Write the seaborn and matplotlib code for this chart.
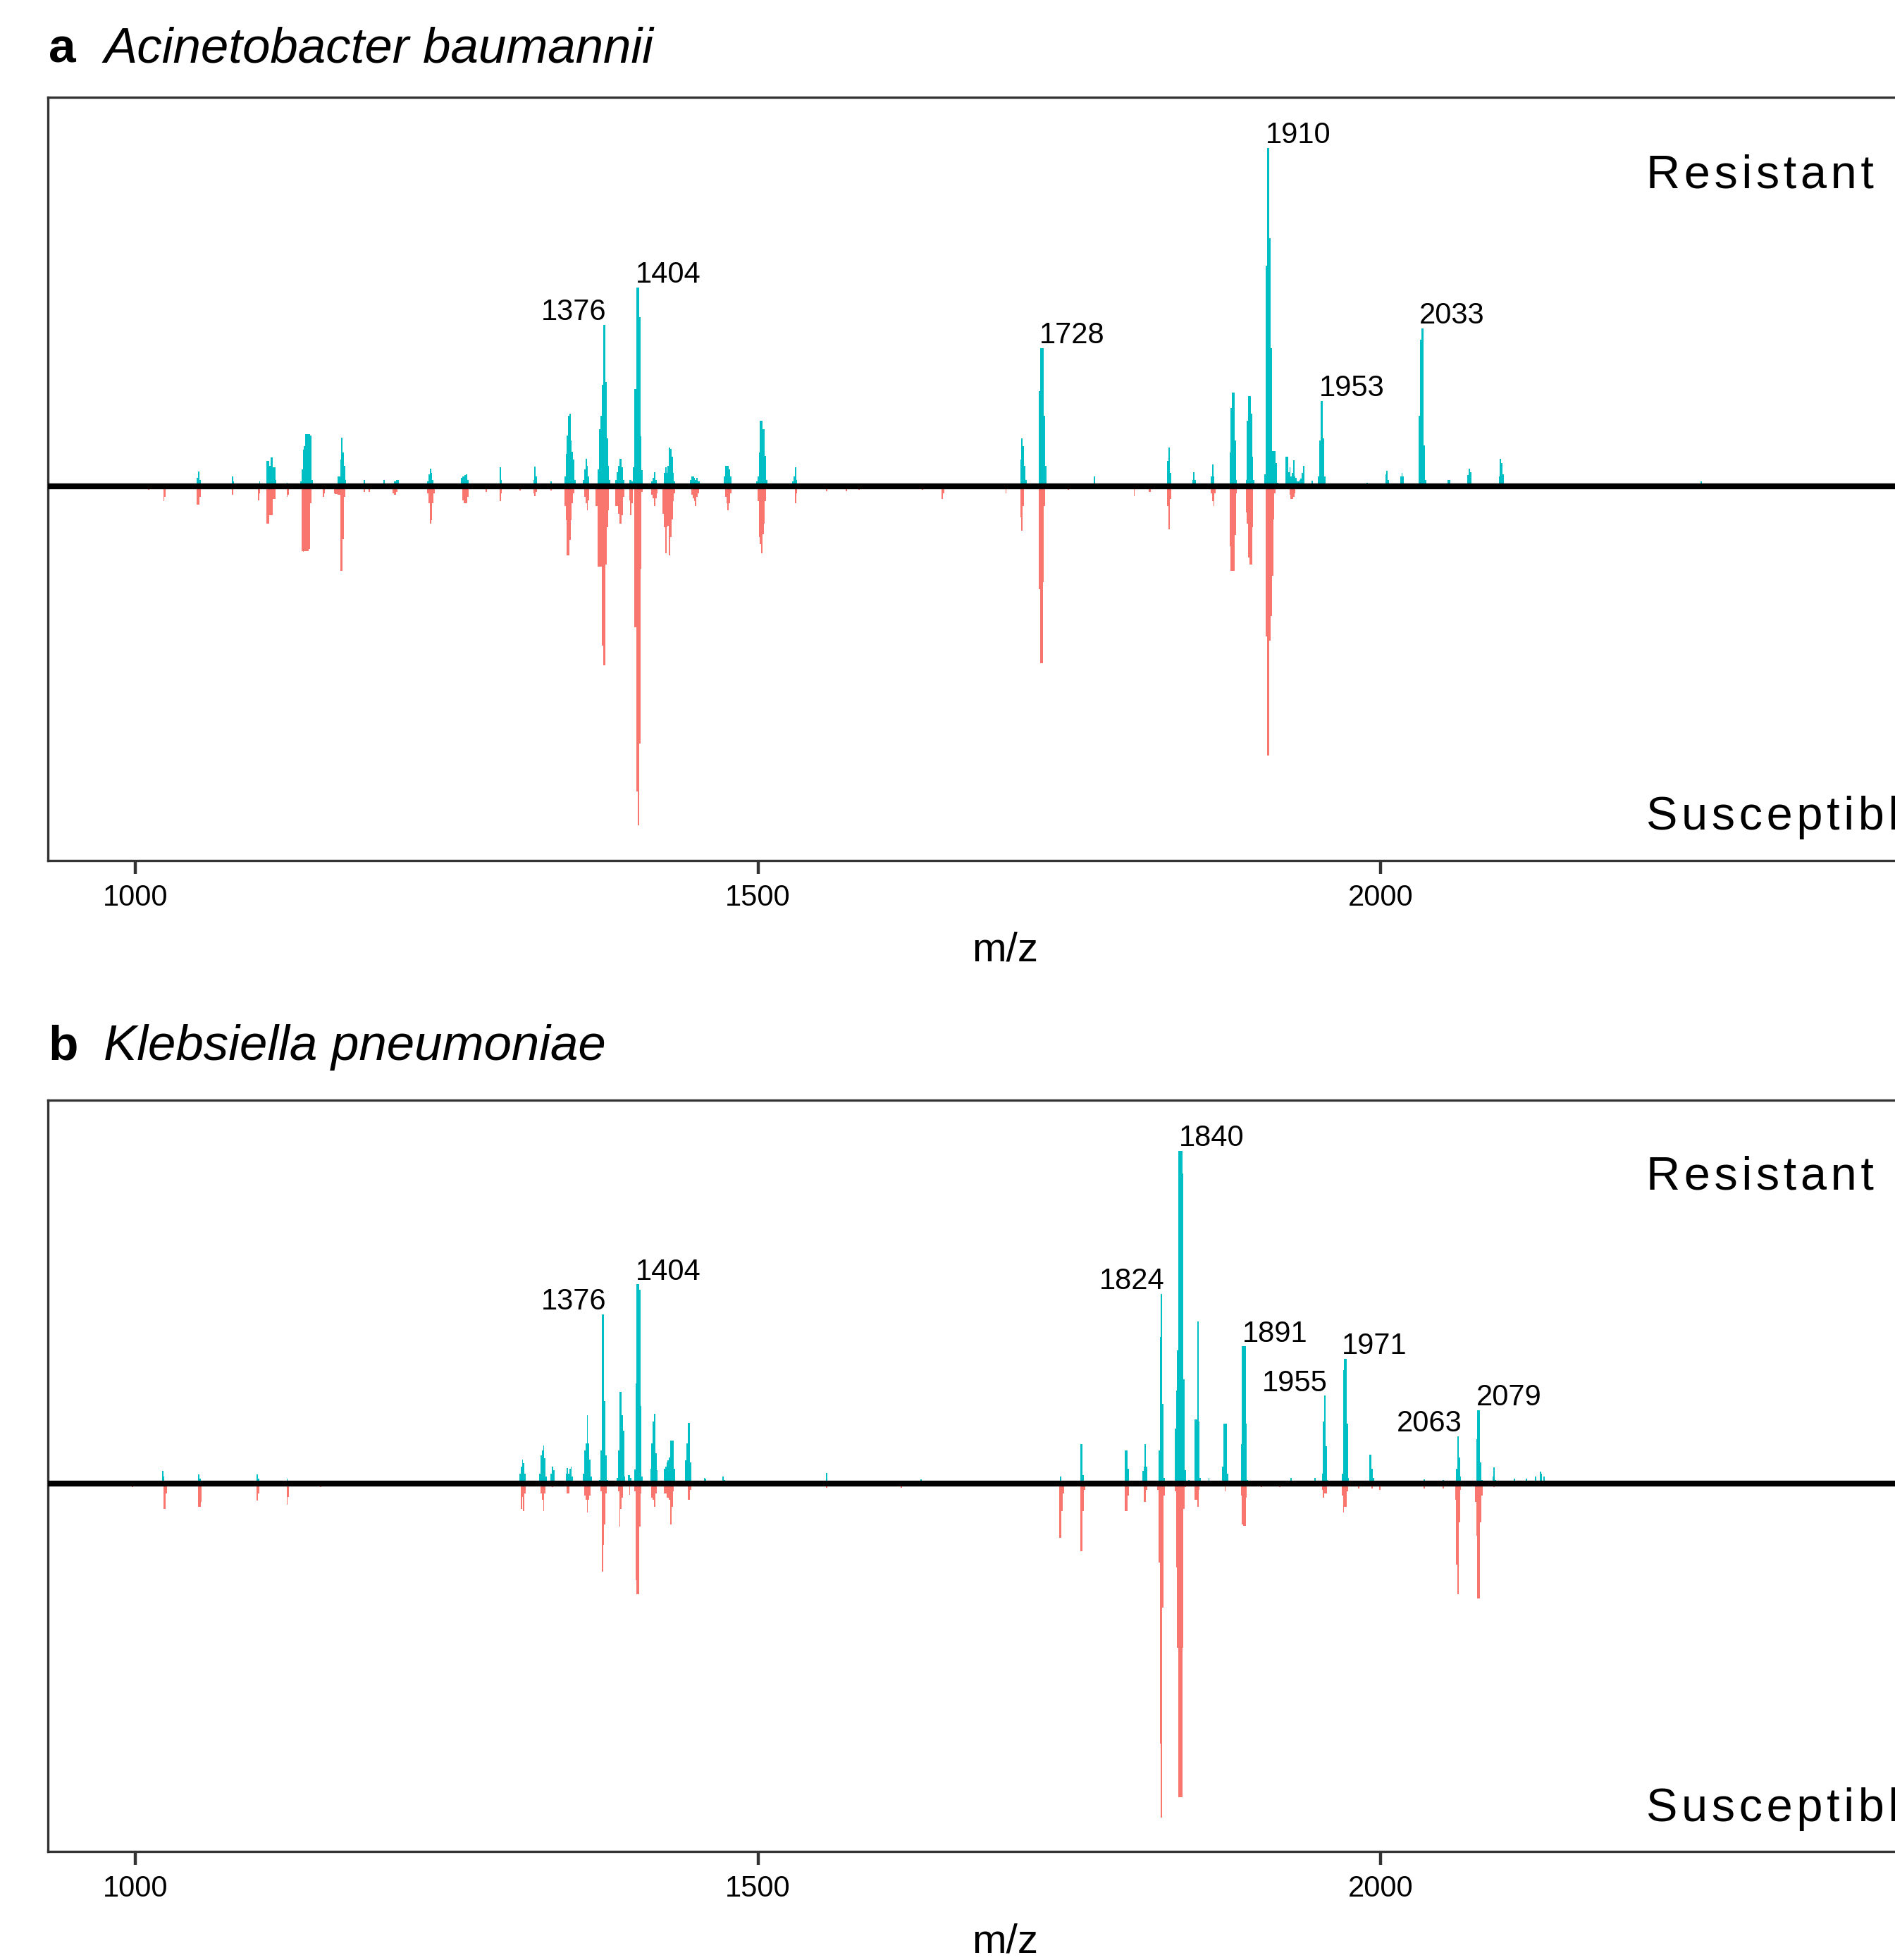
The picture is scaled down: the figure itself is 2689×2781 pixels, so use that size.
import pandas as pd
import matplotlib
matplotlib.use("Agg")
import matplotlib.pyplot as plt
import seaborn as sns

# seaborn theme first, font list afterwards (set_theme resets font.family)
sns.set_theme(style="white")
plt.rcParams["font.family"] = ["Liberation Sans", "DejaVu Sans"]

RES_COLOR = "#00BFC4"
SUS_COLOR = "#F8766D"

# ---------------------------------------------------------------
# data: (m/z bin, relative intensity)
# panel a - Acinetobacter baumannii
# ---------------------------------------------------------------
a_resistant = [
    (1050, 2.5), (1051, 4.5), (1052, 2), (1078, 2.9), (1079, 1.5), (1100, 1.6),
    (1106, 7.6), (1107, 7.6), (1108, 6), (1109, 8.6), (1110, 8.6), (1111, 5.6), (1112, 5.6), (1113, 2),
    (1122, 1.2), (1123, 1),
    (1133, 1.6), (1134, 5), (1135, 10.9), (1136, 12), (1137, 15.5), (1138, 15.5), (1139, 15.5),
    (1140, 15.5), (1141, 15), (1142, 2),
    (1151, 1), (1163, 3), (1164, 3), (1165, 8), (1166, 14.5), (1167, 10), (1168, 6), (1169, 2),
    (1184, 2), (1185, 1), (1200, 2), (1208, 1.5), (1209, 1.5), (1210, 2), (1211, 2), (1212, 1),
    (1235, 1.5), (1236, 3.5), (1237, 5.2), (1238, 4), (1239, 2), (1240, 1),
    (1262, 2.5), (1263, 3), (1264, 3), (1265, 3.3), (1266, 3.5), (1267, 2),
    (1293, 5.6), (1294, 2), (1309, 0.8), (1320, 2), (1321, 5.8), (1322, 3), (1323, 1),
    (1333, 1), (1334, 1.5), (1335, 1),
    (1345, 3), (1346, 9.6), (1347, 15), (1348, 20.9), (1349, 21.5), (1350, 13.5), (1351, 10.2),
    (1352, 8), (1353, 2),
    (1360, 2), (1361, 5), (1362, 8.2), (1363, 6), (1364, 3), (1365, 1),
    (1371, 1), (1372, 5), (1373, 16.9), (1374, 20.9), (1375, 30.1), (1376, 47.7), (1377, 47.7),
    (1378, 30.8), (1379, 14.2), (1380, 6.2), (1381, 2),
    (1386, 2), (1387, 4.2), (1388, 6), (1389, 8.2), (1390, 8.2), (1391, 5.6), (1392, 2),
    (1396, 1), (1397, 2), (1398, 2), (1399, 1.5),
    (1400, 5.6), (1401, 28.8), (1402, 28.8), (1403, 58.7), (1404, 58.7), (1405, 50), (1406, 14.9),
    (1407, 4.9), (1408, 1),
    (1415, 1.5), (1416, 2.5), (1417, 4.2), (1418, 2),
    (1424, 1), (1425, 4), (1426, 5.6), (1427, 4), (1428, 6), (1429, 11.6), (1430, 11), (1431, 8.9),
    (1432, 4), (1433, 1.5),
    (1446, 2), (1447, 3), (1448, 3), (1449, 2.5), (1450, 2), (1451, 2.5), (1452, 1.5), (1453, 1.5),
    (1473, 3), (1474, 6), (1475, 6), (1476, 6), (1477, 5), (1478, 3), (1490, 1),
    (1499, 1.5), (1500, 3), (1501, 10), (1502, 19.5), (1503, 19.5), (1504, 16.9), (1505, 16.9),
    (1506, 9), (1507, 2),
    (1515, 1), (1528, 1.5), (1529, 3), (1530, 5.6), (1531, 2), (1581, 1),
    (1711, 8), (1712, 14.2), (1713, 12), (1714, 6), (1715, 2),
    (1726, 28.2), (1727, 40.8), (1728, 40.8), (1729, 40.8), (1730, 20.9), (1731, 6.2),
    (1770, 2.9), (1771, 1), (1829, 7.6), (1830, 11.6), (1831, 4),
    (1849, 2), (1850, 4.2), (1851, 2), (1864, 2.9), (1865, 6.5), (1866, 3),
    (1879, 10), (1880, 23.2), (1881, 27.8), (1882, 27.8), (1883, 13.5), (1884, 2),
    (1892, 2), (1893, 19.5), (1894, 26.8), (1895, 26.8), (1896, 21.5), (1897, 8.9), (1898, 2),
    (1907, 3.5), (1908, 65.3), (1909, 100), (1910, 100), (1911, 73.3), (1912, 40.8),
    (1913, 10.5), (1914, 10.5), (1915, 10.5), (1916, 6.9), (1917, 1.2),
    (1924, 8.9), (1925, 8.9), (1926, 4.2), (1927, 5.6), (1928, 3), (1929, 4), (1930, 7.8),
    (1931, 3), (1932, 2.5), (1933, 1.6), (1934, 1.5), (1935, 2), (1936, 2.3), (1937, 4),
    (1938, 6.2), (1939, 1), (1945, 1.8),
    (1950, 2.9), (1951, 13.5), (1952, 25.2), (1953, 25.2), (1954, 14.2), (1955, 2.9),
    (1989, 1.2), (2004, 3.6), (2005, 4.6), (2006, 2), (2016, 3), (2017, 4), (2018, 3),
    (2031, 20.9), (2032, 43.4), (2033, 46.7), (2034, 46.7), (2035, 12.2), (2036, 2),
    (2054, 2), (2055, 2), (2056, 1), (2070, 3.3), (2071, 5.2), (2072, 4.2), (2073, 1),
    (2095, 3), (2096, 8.2), (2097, 6.9), (2098, 3.6), (2099, 1), (2257, 1.5), (2258, 1),
]

a_susceptible = [
    (1011, 1), (1023, 4.4), (1024, 3), (1050, 5.4), (1051, 5.4), (1052, 3), (1078, 2.4),
    (1099, 4.1), (1100, 2),
    (1106, 11), (1107, 11), (1108, 8.4), (1109, 8.4), (1110, 8.4), (1111, 3.7), (1112, 3.7),
    (1122, 3), (1123, 2.5),
    (1134, 19), (1135, 19.2), (1136, 19), (1137, 19), (1138, 19), (1139, 19), (1140, 18.5), (1141, 5),
    (1151, 3), (1152, 2),
    (1160, 2), (1161, 2.3), (1162, 2.3), (1163, 2.5), (1164, 2.5), (1165, 25), (1166, 25),
    (1167, 15.5), (1168, 3),
    (1184, 1.5), (1188, 1.7), (1207, 2), (1208, 2.4), (1209, 2.4), (1210, 1.5),
    (1235, 2), (1236, 5), (1237, 11), (1238, 10), (1239, 5), (1240, 2),
    (1263, 4), (1264, 5), (1265, 5), (1266, 5), (1267, 3), (1282, 1.7), (1293, 4.4), (1294, 2),
    (1309, 1.2), (1320, 2), (1321, 2.8), (1322, 1.5), (1334, 1.2),
    (1345, 5.7), (1346, 10), (1347, 20.3), (1348, 20.3), (1349, 15.7), (1350, 10), (1351, 5), (1352, 2),
    (1361, 3), (1362, 5), (1363, 7), (1364, 4),
    (1370, 5.7), (1371, 5.7), (1372, 23.6), (1373, 23.6), (1374, 23.6), (1375, 46.9), (1376, 52.9),
    (1377, 52.9), (1378, 23), (1379, 12), (1380, 7),
    (1386, 5.7), (1387, 5.7), (1388, 8), (1389, 11), (1390, 11), (1391, 8.4), (1392, 3),
    (1397, 4), (1398, 8.4), (1399, 5),
    (1401, 41.6), (1402, 41.6), (1403, 90), (1404, 100), (1405, 76), (1406, 24.3), (1407, 1.7),
    (1415, 2.5), (1416, 3.5), (1417, 5.7), (1418, 3.5), (1419, 2),
    (1424, 8), (1425, 12), (1426, 19.7), (1427, 12), (1428, 11.6), (1429, 20.3), (1430, 15),
    (1431, 9.7), (1432, 4.3), (1433, 2),
    (1447, 2.5), (1448, 3.5), (1449, 4.4), (1450, 5.7), (1451, 3), (1452, 2),
    (1474, 3), (1475, 5), (1476, 7), (1477, 5), (1478, 2),
    (1500, 4.4), (1501, 15), (1502, 17), (1503, 19.7), (1504, 14), (1505, 11), (1506, 4.4),
    (1530, 5), (1531, 2), (1555, 1.3), (1571, 1.3), (1581, 1), (1632, 1), (1648, 3.7), (1649, 2),
    (1699, 2), (1711, 9), (1712, 13), (1713, 5.7),
    (1726, 30.3), (1727, 52.2), (1728, 52.2), (1729, 28.3), (1730, 5.7),
    (1749, 1), (1802, 2.8), (1814, 1.7), (1815, 1.5), (1829, 5.7), (1830, 12.7), (1831, 3.7),
    (1864, 2), (1865, 4.4), (1866, 5.7), (1867, 2),
    (1879, 17.7), (1880, 25), (1881, 25), (1882, 25), (1883, 14.3), (1884, 2),
    (1892, 7.6), (1893, 11), (1894, 21), (1895, 23), (1896, 23), (1897, 12),
    (1908, 44.2), (1909, 79.4), (1910, 79.4), (1911, 45.6), (1912, 38.2), (1913, 26.3),
    (1914, 9.7), (1915, 2),
    (1927, 2.4), (1928, 3.7), (1929, 3.7), (1930, 3), (1931, 2),
]

# panel b - Klebsiella pneumoniae
b_resistant = [
    (1022, 3.8), (1023, 2), (1051, 2.8), (1052, 1.5), (1098, 2.8), (1099, 1.5), (1122, 1.5),
    (1298, 0.8), (1309, 3), (1310, 5.1), (1311, 7.1), (1312, 6), (1313, 3),
    (1325, 3), (1326, 8.5), (1327, 10), (1328, 11.4), (1329, 7.5), (1330, 2),
    (1334, 3), (1335, 5.1), (1336, 4),
    (1346, 3), (1347, 4.7), (1348, 3), (1349, 4.5), (1350, 5.1), (1351, 2),
    (1360, 3), (1361, 9.8), (1362, 12), (1363, 20.5), (1364, 12), (1365, 7.1), (1366, 2),
    (1373, 1), (1374, 9.8), (1375, 50.7), (1376, 50.7), (1377, 24.6), (1378, 8.5), (1379, 1),
    (1387, 1.7), (1388, 10), (1389, 27.5), (1390, 27.5), (1391, 20.5), (1392, 15.8), (1393, 2),
    (1396, 2.4), (1397, 2.4), (1398, 1.7),
    (1401, 4.2), (1402, 30), (1403, 59.7), (1404, 59.7), (1405, 58.1), (1406, 23.2), (1407, 2),
    (1414, 4.4), (1415, 12), (1416, 18.5), (1417, 20.8), (1418, 9), (1419, 4),
    (1425, 4.4), (1426, 5), (1427, 6.4), (1428, 7), (1429, 7.8), (1430, 12.9), (1431, 12.9),
    (1432, 12.9), (1433, 4.4),
    (1442, 7), (1443, 12), (1444, 18.1), (1445, 18.1), (1446, 6.4),
    (1457, 1.7), (1458, 1.5), (1472, 2), (1473, 1), (1538, 0.8), (1555, 3.1), (1572, 0.8),
    (1631, 1.3), (1743, 2),
    (1759, 11.8), (1760, 11.8), (1761, 2.4), (1795, 9.8), (1796, 9.8), (1797, 4.4),
    (1809, 3.7), (1810, 5), (1811, 11.8), (1812, 5),
    (1822, 9.8), (1823, 44), (1824, 56.8), (1825, 23.9), (1826, 1.7),
    (1835, 16.5), (1836, 27.9), (1837, 40), (1838, 99.7), (1839, 99.7), (1840, 99.7),
    (1841, 93), (1842, 31.3), (1843, 4), (1846, 1),
    (1851, 19.2), (1852, 19.2), (1853, 48.7), (1854, 18.5), (1855, 1.7), (1862, 1.7),
    (1873, 5.1), (1874, 17.9), (1875, 17.9), (1876, 17.9), (1877, 3),
    (1888, 11.8), (1889, 41.1), (1890, 41.1), (1891, 41.1), (1892, 17.9), (1893, 1),
    (1928, 1.7), (1947, 1.7),
    (1953, 3), (1954, 18.5), (1955, 26.3), (1956, 11.1), (1957, 1),
    (1969, 3), (1970, 34), (1971, 37.3), (1972, 37.3), (1973, 17.9), (1974, 1.7),
    (1991, 8.7), (1992, 8.7), (1993, 4.3), (1994, 1.7), (2035, 1.3), (2050, 1),
    (2061, 4.3), (2062, 14.1), (2063, 7.8), (2064, 2),
    (2077, 13.2), (2078, 21.9), (2079, 21.9), (2080, 6.4), (2081, 1),
    (2090, 2), (2091, 4.8), (2092, 1), (2107, 1.5), (2117, 1.5), (2124, 2), (2128, 3.5),
    (2129, 3), (2131, 2), (2213, 0.8),
]

b_susceptible = [
    (998, 1), (1023, 7.7), (1024, 7.7), (1025, 3), (1051, 7), (1052, 7), (1053, 5.5),
    (1098, 5.2), (1099, 3), (1122, 6.3), (1123, 4), (1149, 1),
    (1310, 7.7), (1311, 4), (1312, 8.3), (1313, 3), (1326, 3), (1327, 5), (1328, 8.3), (1329, 3),
    (1335, 1), (1347, 3), (1348, 3),
    (1361, 3.6), (1362, 5), (1363, 8.7), (1364, 5), (1365, 3.6),
    (1374, 2.3), (1375, 26.4), (1376, 18.4), (1377, 12.3), (1378, 3),
    (1388, 2.3), (1389, 13), (1390, 7.7), (1391, 4.3), (1397, 3.4),
    (1401, 2.3), (1402, 29.1), (1403, 33.2), (1404, 33.2), (1405, 13), (1406, 3),
    (1415, 4.3), (1416, 5), (1417, 7), (1418, 3),
    (1425, 3), (1426, 3), (1427, 4.3), (1428, 4.3), (1429, 5), (1430, 12.3), (1431, 7), (1432, 2.3),
    (1444, 5), (1445, 5), (1446, 2), (1555, 1.3), (1615, 1.3),
    (1742, 16.4), (1743, 16.4), (1744, 8.3), (1745, 3),
    (1759, 20.4), (1760, 20.4), (1761, 8.3), (1762, 2),
    (1795, 8.3), (1796, 8.3), (1797, 3.6), (1810, 5.6), (1811, 5.6), (1812, 2),
    (1821, 2), (1822, 23.8), (1823, 78.1), (1824, 100.3), (1825, 37.2), (1826, 3.6),
    (1835, 2.3), (1836, 25.1), (1837, 49.3), (1838, 94.2), (1839, 94.2), (1840, 94.2),
    (1841, 49.3), (1842, 7.6), (1843, 1),
    (1851, 5), (1852, 5), (1853, 7), (1854, 2), (1875, 2.3),
    (1888, 3.6), (1889, 12.3), (1890, 12.8), (1891, 12.8), (1892, 4.3), (1904, 1), (1919, 1),
    (1953, 2), (1954, 4.3), (1955, 3), (1956, 3),
    (1969, 3.6), (1970, 8.7), (1971, 7), (1972, 7), (1973, 2.3),
    (1982, 1.6), (1993, 1.6), (1999, 2), (2035, 1.6), (2050, 1.6),
    (2060, 5), (2061, 24.4), (2062, 33.2), (2063, 11.7), (2064, 2),
    (2076, 5.6), (2077, 15.7), (2078, 34.5), (2079, 34.5), (2080, 11.7), (2081, 3.6), (2091, 1),
]

# annotated peaks and which side of the peak the number sits on
a_peaks = [1376, 1404, 1728, 1910, 1953, 2033]
a_peak_side = ["right", "left", "left", "left", "left", "left"]
b_peaks = [1376, 1404, 1824, 1840, 1891, 1955, 1971, 2063, 2079]
b_peak_side = ["right", "left", "right", "left", "left", "right", "left", "right", "left"]

a_title = "Acinetobacter baumannii"
b_title = "Klebsiella pneumoniae"
x_ticks = [1000, 1500, 2000]


def spaced(word):
    # wide letter spacing of the group labels
    return "\u200a".join(word)


def make_frame(res, sus):
    df_r = pd.DataFrame(res, columns=["mz", "intensity"])
    df_r["group"] = "Resistant"
    df_s = pd.DataFrame(sus, columns=["mz", "intensity"])
    df_s["intensity"] = -df_s["intensity"]
    df_s["group"] = "Susceptible"
    return pd.concat([df_r, df_s], ignore_index=True)


def draw_panel(ax, df, peaks, sides):
    sns.histplot(data=df, x="mz", weights="intensity", hue="group",
                 hue_order=["Resistant", "Susceptible"],
                 palette={"Resistant": RES_COLOR, "Susceptible": SUS_COLOR},
                 binwidth=1, binrange=(900.5, 2500.5), multiple="layer",
                 alpha=1, linewidth=0, legend=False, ax=ax)
    ax.axhline(0, color="black", lw=3, zorder=3)

    # peak numbers sit just above the resistant peak
    res = df[df["group"] == "Resistant"]
    for mz, side in zip(peaks, sides):
        top = res.loc[(res["mz"] - mz).abs() <= 2, "intensity"].max()
        dx = -1.5 if side == "left" else 1.5
        ax.annotate(str(mz), xy=(mz, top), xytext=(dx, 2.5), textcoords="offset points",
                    ha=side, va="baseline", fontsize=15, color="black")

    ax.text(2213, 88.3, spaced("Resistant"), ha="left", va="baseline", fontsize=24, color="black")
    ax.text(2213, -101.3, spaced("Susceptible"), ha="left", va="baseline", fontsize=24, color="black")

    # ticks first, then limits (set_xticks would widen the view otherwise)
    ax.set_xticks(x_ticks)
    ax.set_yticks([])
    ax.set_xlim(930, 2467)
    ax.set_ylim(-110.4, 115)
    ax.set_ylabel("")
    ax.set_xlabel("m/z", fontsize=21, labelpad=10, color="black")
    ax.tick_params(axis="x", bottom=True, direction="out", length=7, width=1.6,
                   color="#333333", labelsize=15, labelcolor="black", pad=5)
    for sp in ax.spines.values():
        sp.set_color("#333333")
        sp.set_linewidth(1.2)
    ax.grid(False)


fig = plt.figure(figsize=(2689 / 200, 2781 / 200), dpi=200)
fig.patch.set_facecolor("white")

# the panels run past the right edge of the picture, as in the original crop
ax_a = fig.add_axes([0.0253, 0.5611, 1.0104, 0.3893])
ax_b = fig.add_axes([0.0253, 0.0554, 1.0104, 0.3833])

draw_panel(ax_a, make_frame(a_resistant, a_susceptible), a_peaks, a_peak_side)
draw_panel(ax_b, make_frame(b_resistant, b_susceptible), b_peaks, b_peak_side)

fig.text(0.0255, 0.968, "a", fontsize=25, fontweight="bold", color="black", ha="left", va="baseline")
fig.text(0.0547, 0.968, a_title, fontsize=25.5, fontstyle="italic", color="black",
         ha="left", va="baseline")
fig.text(0.0255, 0.4592, "b", fontsize=25, fontweight="bold", color="black", ha="left", va="baseline")
fig.text(0.0547, 0.4592, b_title, fontsize=25.5, fontstyle="italic", color="black",
         ha="left", va="baseline")

fig.savefig("out.png", dpi=200, facecolor="white")
